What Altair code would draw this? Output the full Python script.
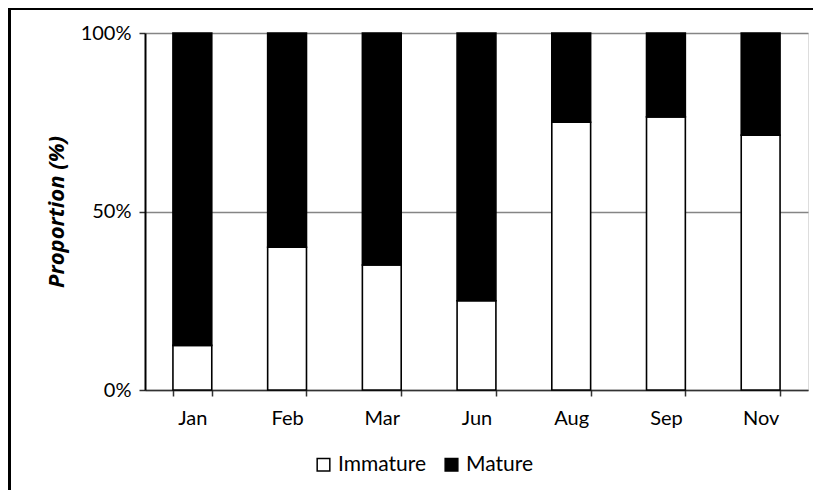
import altair as alt
import pandas as pd

months = ["Jan", "Feb", "Mar", "Jun", "Aug", "Sep", "Nov"]
immature = [12.5, 40.0, 35.0, 25.0, 75.0, 76.5, 71.4]
mature = [100 - v for v in immature]
stages = ["Immature", "Mature"]
y_ticks = [0, 50, 100]

rows = []
for m, i, mt in zip(months, immature, mature):
    rows.append({"month": m, "stage": "Immature", "value": i, "ord": 0})
    rows.append({"month": m, "stage": "Mature", "value": mt, "ord": 1})
df = pd.DataFrame(rows)

FONT = "Lato"

bars = alt.Chart(df).mark_bar(stroke="black", strokeWidth=1.6).encode(
    x=alt.X("month:N", sort=months,
            scale=alt.Scale(paddingInner=0.59, paddingOuter=0.295),
            axis=alt.Axis(title=None, labelAngle=0, tickBand="extent",
                          labelFont=FONT, labelFontSize=20, labelColor="black",
                          labelPadding=12, tickSize=6, tickColor="#333333",
                          domainColor="#333333", domainWidth=1.5, tickWidth=1.5,
                          grid=False)),
    y=alt.Y("value:Q", stack="zero",
            scale=alt.Scale(domain=[0, 100], nice=False),
            axis=alt.Axis(title="Proportion (%)", values=y_ticks,
                          labelExpr="datum.value + '%'",
                          labelFont=FONT, labelFontSize=20, labelColor="black",
                          labelPadding=8, tickSize=6, tickColor="#333333",
                          tickWidth=1.5, domainColor="black", domainWidth=2,
                          grid=True, gridColor="#858585", gridWidth=1.5,
                          titleFont="Open Sans", titleFontSize=22, titleFontWeight="bold",
                          titleFontStyle="italic", titleColor="black",
                          titlePadding=12)),
    color=alt.Color("stage:N",
                    scale=alt.Scale(domain=stages, range=["white", "black"]),
                    legend=alt.Legend(title=None, orient="none", direction="horizontal",
                                      legendX=168, legendY=421,
                                      symbolType="square", symbolSize=160,
                                      symbolStrokeColor="black", symbolStrokeWidth=1.5,
                                      labelFont=FONT, labelFontSize=21,
                                      labelColor="black", columnPadding=14,
                                      labelOffset=4)),
    order=alt.Order("ord:Q"),
)

frame_df = pd.DataFrame({"a": [0]})
top_edge = alt.Chart(frame_df).mark_rule(stroke="black", strokeWidth=3, clip=False).encode(
    x=alt.value(-137), x2=alt.value(668), y=alt.value(-24.5),
)
left_edge = alt.Chart(frame_df).mark_rule(stroke="black", strokeWidth=3, clip=False).encode(
    x=alt.value(-135.5), y=alt.value(-26), y2=alt.value(457),
)

chart = alt.layer(bars, top_edge, left_edge).properties(
    width=663, height=357,
    padding={"left": 137, "top": 25, "right": 5, "bottom": 100},
    autosize=alt.AutoSizeParams(type="none"),
).configure_view(stroke=None).configure(background="white")

chart.save("out.html", embed_options={"renderer": "svg", "actions": False})
